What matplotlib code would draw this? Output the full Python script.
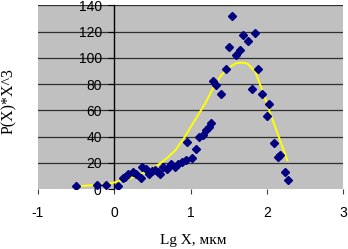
import matplotlib
matplotlib.use("Agg")
import matplotlib.pyplot as plt

# scatter data (Lg X, P(X)*X^3)
pts_x = [-0.50, -0.23, -0.11, 0.05, 0.11, 0.14, 0.18, 0.25, 0.29, 0.35, 0.37, 0.41,
         0.46, 0.49, 0.53, 0.57, 0.60, 0.64, 0.69, 0.75, 0.80, 0.84, 0.89, 0.94,
         0.96, 1.02, 1.07, 1.11, 1.16, 1.20, 1.24, 1.27, 1.30, 1.34, 1.40, 1.46,
         1.51, 1.55, 1.60, 1.65, 1.69, 1.75, 1.80, 1.84, 1.89, 1.94, 2.03, 2.00,
         2.09, 2.18, 2.15, 2.24, 2.28]
pts_y = [2.1, 2.8, 2.8, 2.5, 8.2, 9.3, 11.3, 13.1, 11.8, 8.7, 16.9, 14.9,
         11.8, 13.8, 14.3, 13.0, 11.3, 16.9, 15.6, 18.9, 16.9, 18.9, 20.7, 22.5,
         36.0, 23.4, 30.2, 39.8, 41.1, 45.0, 47.5, 50.1, 82.5, 79.5, 72.3, 91.5,
         108.4, 131.8, 102.5, 105.8, 117.3, 112.6, 76.2, 119.1, 91.7, 72.6, 64.7, 55.9,
         34.8, 26.2, 24.5, 13.0, 7.2]

# trend curve
trend_x = [-0.5, -0.3, -0.1, 0.0, 0.1, 0.2, 0.3, 0.4, 0.5, 0.6, 0.7, 0.8, 0.9,
           1.0, 1.1, 1.2, 1.3, 1.4, 1.5, 1.6, 1.68, 1.75, 1.85, 1.95, 2.05, 2.15, 2.27]
trend_y = [2, 2.8, 4, 5, 6.5, 8, 10, 12.5, 15.5, 19.5, 24, 29.5, 37.5,
           47, 56.5, 66, 77.5, 86.5, 92.5, 96, 96.5, 95.5, 89.5, 74, 57, 41, 22]

x_ticks = [-1, 0, 1, 2, 3]
y_ticks = [0, 20, 40, 60, 80, 100, 120, 140]

W, H = 348, 249
fig = plt.figure(figsize=(W / 100, H / 100), dpi=100)
ax = fig.add_axes([38 / W, 1 - 189 / H, (343 - 38) / W, (189 - 5.5) / H])
ax.set_facecolor("#c0c0c0")
ax.set_xlim(-1, 3)
ax.set_ylim(0, 140)

for yv in y_ticks[1:]:
    ax.axhline(yv, color="#303030", lw=0.9, zorder=1)

ax.plot(trend_x, trend_y, color="#ffff00", lw=1.4, zorder=3)
ax.plot(pts_x, pts_y, linestyle="none", marker="D", ms=3.6,
        color="#000080", mec="#000080", zorder=4)

for s in ["top", "right", "bottom"]:
    ax.spines[s].set_visible(False)
ax.spines["left"].set_position(("data", 0))
ax.spines["left"].set_color("black")
ax.spines["left"].set_linewidth(1.0)
ax.spines["left"].set_zorder(2)

ax.set_xticks(x_ticks)
ax.set_yticks(y_ticks)
ax.set_xticklabels([str(v) for v in x_ticks])
ax.set_yticklabels([str(v) for v in y_ticks])
ax.tick_params(axis="x", length=3.5, width=0.8, color="#404040", pad=9,
               labelsize=10, labelfontfamily="Liberation Sans")
ax.tick_params(axis="y", length=4, width=0.8, color="black", pad=5,
               labelsize=10, labelfontfamily="Liberation Sans")

fig.text(193 / W, 1 - 240 / H, "Lg X, мкм", ha="center", va="center",
         fontsize=11, family="Liberation Serif")
fig.text(9 / W, 1 - 101 / H, "P(X)*X^3", ha="center", va="center",
         rotation=90, fontsize=11.5, family="Liberation Serif")

fig.savefig("out.png", dpi=100)
